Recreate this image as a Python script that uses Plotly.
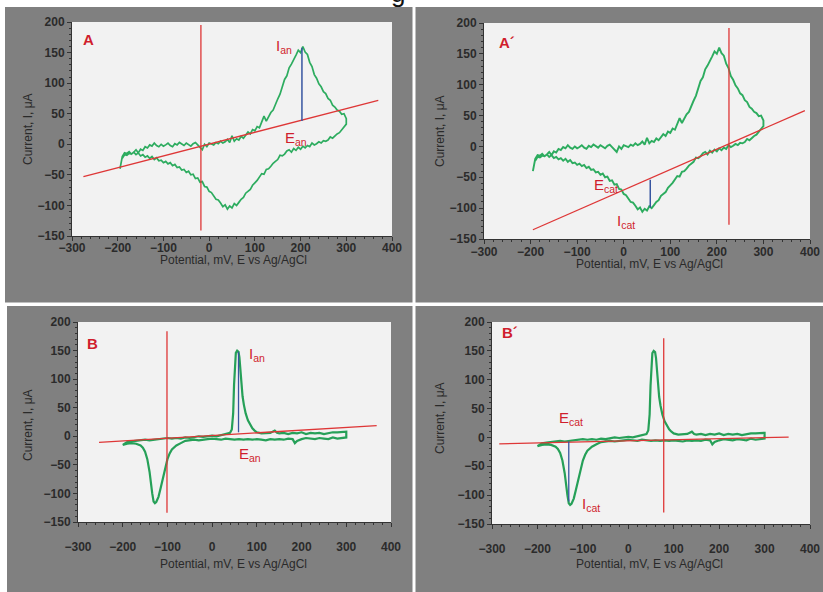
import plotly.graph_objects as go

# ---------------- data ----------------
# Panels A / A' : cyclic voltammogram (same scan shown twice)
E_A_fwd = list(range(-195, 301, 5))
I_A_fwd = [-40, -20, -14, -15, -12, -16, -13, -9, -14, -8,
           -10, -4, -6, -1, -3, 2, -2, -4, 0, -3,
           -1, 2, -2, -4, 1, -1, 3, 0, -2, 2,
           -1, -3, 1, 3, -1, -5, -9, 0, -4, 2,
           0, -1, 3, 1, 5, 2, 4, 8, 3, 14,
           5, 9, 7, 13, 10, 15, 20, 17, 24, 22,
           29, 27, 36, 46, 38, 45, 52, 56, 66, 74,
           82, 95, 106, 112, 125, 131, 140, 146, 154, 150,
           160, 151, 147, 134, 127, 114, 108, 99, 94, 86,
           83, 75, 72, 64, 61, 56, 54, 49, 50, 42]
E_A_rev = list(range(300, -191, -5))
I_A_rev = [33, 28, 22, 19, 17, 13, 10, 12, 7, 5,
           6, 2, 4, 1, -1, 2, -4, -2, -6, -3,
           -8, -5, -10, -7, -13, -9, -11, -16, -19, -18,
           -25, -28, -31, -36, -40, -41, -49, -48, -54, -59,
           -63, -67, -74, -77, -80, -87, -90, -95, -100, -97,
           -104, -101, -106, -99, -102, -96, -91, -90, -84, -79,
           -77, -70, -69, -61, -62, -55, -56, -49, -50, -44,
           -46, -41, -42, -37, -38, -33, -35, -30, -32, -28,
           -30, -26, -27, -22, -25, -20, -23, -19, -21, -17,
           -19, -14, -17, -13, -16, -15, -18, -17, -23]

# Panels B / B' : cyclic voltammogram (same scan shown twice)
E_B_fwd = [-200, -195, -190, -180, -170, -160, -150, -140, -130, -120,
           -110, -100, -90, -80, -70, -60, -50, -40, -30, -20,
           -10, 0, 10, 20, 30, 36, 40, 44, 47, 49,
           51, 53, 56, 59, 61, 63, 65, 68, 71, 75,
           80, 85, 90, 95, 100, 110, 120, 130, 140, 145,
           150, 160, 170, 180, 190, 200, 210, 220, 230, 240,
           250, 260, 270, 280, 290, 300]
I_B_fwd = [-15, -12, -10, -9, -8, -7, -6, -7, -6, -5,
           -5, -3, -4, -3, -4, -2, -3, -1, 0, -1,
           0, 1, 0, 2, 3, 4, 6, 12, 40, 90,
           130, 146, 150, 148, 138, 115, 92, 70, 55, 40,
           28, 20, 14, 10, 7, 5, 5, 6, 10, 6,
           5, 6, 4, 6, 5, 7, 4, 6, 5, 6,
           4, 6, 7, 7, 7, 8]
E_B_rev = [300, 290, 280, 270, 260, 250, 240, 230, 220, 210,
           200, 190, 185, 180, 170, 160, 150, 140, 130, 120,
           110, 100, 90, 80, 70, 60, 50, 40, 30, 20,
           10, 0, -10, -20, -30, -40, -50, -60, -70, -80,
           -90, -95, -100, -105, -110, -115, -120, -125, -128, -131,
           -134, -137, -140, -145, -150, -155, -160, -170, -180, -190,
           -200]
I_B_rev = [-2, -3, -4, -2, -5, -4, -3, -5, -4, -3,
           -5, -8, -12, -5, -4, -6, -5, -6, -5, -7,
           -6, -5, -6, -5, -6, -5, -6, -5, -4, -6,
           -5, -4, -5, -6, -7, -6, -7, -8, -12, -16,
           -23, -30, -40, -55, -72, -90, -106, -115, -117, -114,
           -100, -80, -62, -40, -27, -20, -16, -13, -12, -13,
           -15]

# Construction lines (baseline, vertical marker, peak height)
A_base_E, A_base_I = [-275, 370], [-53, 72]
A_vert_E, A_vert_I = [-18, -18], [-141, 195]
A_peak_E, A_peak_I = [203, 203], [38, 158]

A2_base_E, A2_base_I = [-195, 389], [-135, 58]
A2_vert_E, A2_vert_I = [226, 226], [-127, 192]
A2_peak_E, A2_peak_I = [57, 57], [-54, -99]

B_base_E, B_base_I = [-253, 368], [-10.5, 18.7]
B_vert_E, B_vert_I = [-101, -101], [-134, 184]
B_peak_E, B_peak_I = [59, 59], [7, 148]

B2_base_E, B2_base_I = [-284, 353], [-11, 0.6]
B2_vert_E, B2_vert_I = [78, 78], [-130, 172]
B2_peak_E, B2_peak_I = [-131, -131], [-7, -111]

x_tickvals = [-300, -200, -100, 0, 100, 200, 300, 400]
y_tickvals = [-150, -100, -50, 0, 50, 100, 150, 200]

# ---------------- styling ----------------
W, H = 823, 592
GREEN_A = "rgb(45,172,95)"
GREEN_B = "rgb(38,160,88)"
RED = "rgb(222,55,55)"
LABEL_RED = "rgb(208,30,45)"
BLUE = "rgb(55,85,160)"
PANEL_GRAY = "rgb(128,128,128)"
PLOT_BG = "rgb(242,242,242)"
AX = "#333333"
FONT = "Liberation Sans, Arial, sans-serif"
NARROW = "Liberation Sans Narrow, Arial Narrow, Liberation Sans, sans-serif"

fig = go.Figure()

panels = [
    ("", E_A_fwd, I_A_fwd, E_A_rev, I_A_rev, GREEN_A,
     [(A_base_E, A_base_I, RED, 1.3), (A_vert_E, A_vert_I, RED, 1.3), (A_peak_E, A_peak_I, BLUE, 1.5)], 1.7),
    ("2", E_A_fwd, I_A_fwd, E_A_rev, I_A_rev, GREEN_A,
     [(A2_base_E, A2_base_I, RED, 1.3), (A2_vert_E, A2_vert_I, RED, 1.3), (A2_peak_E, A2_peak_I, BLUE, 1.5)], 1.9),
    ("3", E_B_fwd, I_B_fwd, E_B_rev, I_B_rev, GREEN_B,
     [(B_base_E, B_base_I, RED, 1.3), (B_vert_E, B_vert_I, RED, 1.3), (B_peak_E, B_peak_I, BLUE, 1.3)], 2.2),
    ("4", E_B_fwd, I_B_fwd, E_B_rev, I_B_rev, GREEN_B,
     [(B2_base_E, B2_base_I, RED, 1.3), (B2_vert_E, B2_vert_I, RED, 1.3), (B2_peak_E, B2_peak_I, BLUE, 1.3)], 2.2),
]

for suf, ef, i_f, er, ir, gcol, lines, gw in panels:
    xa, ya = "x" + suf, "y" + suf
    fig.add_trace(go.Scatter(x=ef + er, y=i_f + ir, mode="lines",
                             line=dict(color=gcol, width=gw),
                             xaxis=xa, yaxis=ya, showlegend=False, hoverinfo="skip"))
    for lx, ly, col, w in lines:
        fig.add_trace(go.Scatter(x=lx, y=ly, mode="lines",
                                 line=dict(color=col, width=w),
                                 xaxis=xa, yaxis=ya, showlegend=False, hoverinfo="skip"))

def dom_x(a, b):
    return [a / W, b / W]

def dom_y(top, bottom):
    return [1 - bottom / H, 1 - top / H]

domains = {
    "": (dom_x(72, 392), dom_y(22, 236)),
    "2": (dom_x(484, 810), dom_y(23, 239)),
    "3": (dom_x(78, 391), dom_y(322, 522)),
    "4": (dom_x(492, 810), dom_y(322, 524)),
}
x_label_standoff = {"": -3, "2": -2, "3": 10, "4": 10}

layout_axes = {}
for suf, (dx, dy) in domains.items():
    layout_axes["xaxis" + suf] = dict(
        domain=dx, range=[-300, 400], anchor="y" + suf,
        tickvals=x_tickvals, showgrid=False, zeroline=False,
        showline=True, linecolor=AX, linewidth=1,
        ticks="outside", ticklen=4, tickcolor=AX, tickwidth=1,
        ticklabelstandoff=x_label_standoff[suf],
        minor=dict(dtick=20, tick0=-300, ticks="outside", ticklen=2, tickcolor=AX, showgrid=False),
        tickfont=dict(family=FONT, size=12, color="#2b2b2b", weight="bold"),
        fixedrange=True,
    )
    layout_axes["yaxis" + suf] = dict(
        domain=dy, range=[-150, 200], anchor="x" + suf,
        tickvals=y_tickvals, showgrid=False, zeroline=False,
        showline=True, linecolor=AX, linewidth=1,
        ticks="outside", ticklen=4, tickcolor=AX, tickwidth=1,
        minor=dict(dtick=10, tick0=-150, ticks="outside", ticklen=2, tickcolor=AX, showgrid=False),
        tickfont=dict(family=FONT, size=12, color="#2b2b2b", weight="bold"),
        fixedrange=True,
    )

# gray panel backgrounds, then light plot areas on top of them
shapes = []
for (x0, y0, x1, y1) in [(5, 7, 412.5, 302.5), (415.5, 7, 823, 302.5),
                         (7, 306, 412.5, 592), (415.5, 306, 823, 592)]:
    shapes.append(dict(type="rect", xref="paper", yref="paper",
                       x0=x0 / W, x1=x1 / W, y0=1 - y1 / H, y1=1 - y0 / H,
                       fillcolor=PANEL_GRAY, line=dict(width=0), layer="below"))
for suf, (dx, dy) in domains.items():
    shapes.append(dict(type="rect", xref="paper", yref="paper",
                       x0=dx[0], x1=dx[1], y0=dy[0], y1=dy[1],
                       fillcolor=PLOT_BG, line=dict(width=0), layer="below"))

annotations = []
for (cx, cy) in [(233.5, 260), (649, 264), (233, 564), (649, 564)]:
    annotations.append(dict(text="Potential, mV, E vs Ag/AgCl", xref="paper", yref="paper",
                            x=cx / W, y=1 - cy / H, showarrow=False, borderpad=0,
                            xanchor="center", yanchor="middle",
                            font=dict(family=FONT, size=12, color="#2a2a2a")))
for (cx, cy) in [(28, 129), (440, 131), (28, 425), (440, 418)]:
    annotations.append(dict(text="Current, I, μA", xref="paper", yref="paper",
                            x=cx / W, y=1 - cy / H, showarrow=False, textangle=-90,
                            xanchor="center", yanchor="middle",
                            font=dict(family=FONT, size=12, color="#2a2a2a")))

labels = [
    ("", "A", -281, 171, True), ("2", "A´", -272, 168, True),
    ("3", "B", -284, 163, True), ("4", "B´", -282, 181, True),
    ("", "I<sub>an</sub>", 142, 160, False), ("", "E<sub>an</sub>", 162, 10, False),
    ("2", "E<sub>cat</sub>", -68, -64, False), ("2", "I<sub>cat</sub>", -19, -121, False),
    ("3", "I<sub>an</sub>", 78, 144, False), ("3", "E<sub>an</sub>", 56, -31, False),
    ("4", "E<sub>cat</sub>", -157, 32, False), ("4", "I<sub>cat</sub>", -106, -116, False),
]
for suf, txt, lx, ly, is_panel in labels:
    annotations.append(dict(
        text=txt, xref="x" + suf, yref="y" + suf, x=lx, y=ly, showarrow=False,
        xanchor="left", yanchor="middle",
        font=dict(family=FONT if is_panel else NARROW, size=15,
                  color=LABEL_RED, weight="bold" if is_panel else "normal")))

# cropped caption fragment at the very top
annotations.append(dict(text="g", xref="paper", yref="paper", x=398 / W, y=1 + 7 / H,
                        showarrow=False, xanchor="center", yanchor="middle",
                        font=dict(family=FONT, size=26, color="#111111")))

fig.update_layout(
    width=W, height=H,
    margin=dict(l=0, r=0, t=0, b=0, pad=0, autoexpand=False),
    paper_bgcolor="white", plot_bgcolor=PLOT_BG,
    showlegend=False,
    shapes=shapes, annotations=annotations,
    **layout_axes,
)

fig.write_html("out.html", config={"displayModeBar": False, "staticPlot": True},
               post_script="document.body.style.margin='0px';document.body.style.padding='0px';")
